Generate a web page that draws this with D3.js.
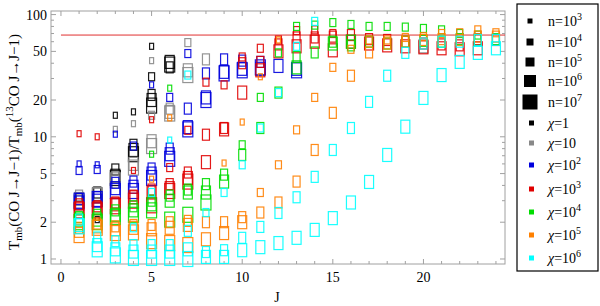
<!DOCTYPE html>
<html>
<head>
<meta charset="utf-8">
<script src="https://cdn.jsdelivr.net/npm/d3@7"></script>
<style>
  body { margin: 0; background: #fff; }
</style>
</head>
<body>
<div id="chart"></div>
<script>
// DATA: each row is [J, log10(n), ratio]
var chi1 = [
  [1, 4, 3.2], [2, 5, 3.5], [2, 6, 3.4], [2, 3, 2.1],
  [3, 3, 15], [3, 5, 5.4], [3, 6, 4.8], [3, 7, 4.6],
  [4, 3, 16], [4, 5, 8.6], [4, 6, 7.8], [4, 7, 7.2],
  [5, 3, 55], [5, 4, 31], [5, 5, 22], [5, 6, 20], [5, 7, 18],
  [6, 5, 37], [6, 6, 41], [6, 7, 39]
];
var chi10 = [
  [1, 5, 3.3], [1, 6, 3.1], [1, 7, 2.9], [2, 6, 3.4], [2, 7, 3.3],
  [3, 3, 11.5], [3, 5, 4.7], [3, 7, 4.4],
  [4, 3, 12.8], [4, 6, 6.0], [4, 7, 5.6],
  [5, 3, 42], [5, 4, 15], [5, 6, 9.2], [5, 7, 8.4],
  [6, 5, 17], [6, 6, 16], [6, 7, 15.5],
  [7, 4, 59], [7, 6, 35], [7, 7, 32], [8, 5, 43], [20, 6, 55]
];
var chi100 = [
  [1, 5, 3.1], [1, 6, 2.9], [1, 7, 3.0], [1, 3, 6.0], [1, 4, 5.3],
  [2, 3, 5.9], [2, 4, 5.4], [2, 5, 3.2], [2, 6, 3.0], [2, 7, 3.1],
  [3, 3, 10.5], [3, 5, 4.2], [3, 6, 3.8], [3, 7, 3.6],
  [4, 4, 8.4], [4, 5, 4.3], [4, 6, 3.9], [4, 7, 3.6],
  [5, 3, 26.6], [5, 5, 5.5], [5, 6, 5.0], [5, 7, 4.6],
  [6, 4, 21], [6, 5, 8.0], [6, 6, 7.2], [6, 7, 6.6],
  [7, 4, 48], [7, 5, 17], [7, 6, 12], [7, 7, 11.5],
  [8, 5, 33], [8, 6, 21], [8, 7, 20],
  [9, 5, 43], [9, 6, 34], [9, 7, 33],
  [10, 5, 42], [10, 6, 36], [10, 7, 35],
  [11, 5, 41], [11, 6, 36], [11, 7, 37],
  [12, 6, 38], [13, 6, 36], [13, 7, 35]
];
var chi1e3 = [
  [1, 3, 10.6], [1, 5, 2.8], [1, 6, 2.6], [1, 7, 2.5],
  [2, 3, 10.0], [2, 5, 2.7], [2, 6, 2.6], [2, 7, 2.5],
  [3, 5, 2.9], [3, 6, 2.8], [3, 7, 2.7],
  [4, 3, 5.3], [4, 5, 3.3], [4, 6, 3.2], [4, 7, 3.0],
  [5, 3, 13.8], [5, 5, 3.7], [5, 6, 3.5], [5, 7, 2.75],
  [6, 4, 5.6], [6, 5, 4.1], [6, 6, 3.8], [6, 7, 3.6],
  [7, 4, 11.3], [7, 5, 5.1], [7, 6, 4.6], [7, 7, 4.3],
  [8, 4, 28], [8, 5, 10.4], [8, 6, 6.2],
  [9, 4, 26.6], [9, 5, 11.8], [9, 6, 11.5],
  [10, 4, 45], [10, 5, 40], [10, 6, 23],
  [11, 4, 53], [11, 5, 41], [11, 6, 35],
  [12, 4, 62], [12, 5, 57], [12, 6, 50],
  [13, 4, 74], [13, 5, 65], [13, 6, 55],
  [14, 4, 75], [14, 5, 65], [14, 6, 60],
  [15, 4, 70], [15, 5, 66], [15, 6, 51],
  [16, 5, 68], [16, 6, 60], [17, 5, 63], [17, 6, 58],
  [18, 5, 62], [18, 6, 56], [19, 5, 60], [19, 6, 55],
  [20, 5, 58], [20, 6, 54], [21, 5, 57], [21, 6, 53],
  [22, 5, 56], [22, 6, 52], [23, 5, 63], [23, 6, 53], [24, 5, 62]
];
var chi1e4 = [
  [1, 5, 2.2], [1, 6, 2.1], [1, 7, 2.0], [2, 5, 2.3], [2, 6, 2.1], [2, 7, 2.0],
  [3, 5, 2.5], [3, 6, 2.3], [3, 7, 2.2], [4, 5, 2.7], [4, 6, 2.5], [4, 7, 2.3],
  [5, 3, 7.2], [5, 5, 3.0], [5, 6, 2.8], [5, 7, 2.5],
  [6, 3, 25], [6, 5, 3.3], [6, 6, 3.0], [6, 7, 2.1],
  [7, 5, 3.7], [7, 6, 3.5], [7, 7, 2.3],
  [8, 5, 4.1], [8, 6, 3.5], [8, 7, 2.9],
  [9, 5, 4.9], [9, 6, 4.3], [10, 4, 8.6], [10, 5, 7.1],
  [11, 4, 21], [11, 5, 11.8], [12, 4, 48.6], [12, 5, 23],
  [13, 4, 80], [13, 5, 45], [13, 6, 37], [14, 4, 82], [14, 5, 49],
  [15, 4, 86], [15, 5, 60], [15, 6, 58], [16, 4, 83], [16, 5, 56], [16, 6, 60],
  [17, 4, 80], [17, 5, 60], [18, 4, 80], [18, 5, 58], [19, 4, 79], [19, 5, 60],
  [20, 4, 77], [20, 5, 61], [21, 4, 75], [21, 5, 60], [22, 4, 70], [22, 5, 63],
  [23, 4, 68], [23, 5, 62], [24, 5, 63]
];
var chi1e5 = [
  [1, 5, 1.8], [1, 6, 1.7], [1, 7, 1.57], [2, 5, 1.95], [2, 6, 1.85], [2, 7, 1.8],
  [3, 5, 1.85], [3, 6, 1.75], [3, 7, 1.63], [4, 5, 1.9], [4, 6, 1.8], [4, 7, 1.65],
  [5, 3, 4.5], [5, 5, 1.9], [5, 6, 1.75], [5, 7, 1.4],
  [6, 3, 14.3], [6, 5, 2.0], [6, 6, 1.8], [6, 7, 1.35],
  [7, 5, 2.05], [7, 6, 1.9], [7, 7, 1.3], [8, 5, 2.0], [8, 6, 1.45],
  [9, 3, 6.1], [9, 5, 2.0], [9, 6, 1.63],
  [10, 3, 13.2], [10, 5, 2.2], [10, 6, 2.0],
  [11, 3, 31], [11, 4, 3.5], [11, 5, 2.4],
  [12, 3, 62], [12, 4, 5.9], [12, 5, 2.9],
  [13, 4, 11.4], [13, 5, 4.3], [14, 4, 21], [14, 5, 7.8],
  [15, 4, 37], [15, 5, 15.7], [16, 4, 52], [16, 5, 31.6],
  [17, 4, 62], [17, 5, 49], [18, 4, 62], [18, 5, 58],
  [19, 4, 65], [19, 5, 60], [20, 4, 66], [20, 5, 62],
  [21, 4, 70], [21, 5, 63], [22, 4, 71], [22, 5, 62],
  [23, 4, 75], [23, 5, 66], [24, 4, 71], [24, 5, 66]
];
var chi1e6 = [
  [1, 5, 2.1], [1, 6, 1.9], [1, 7, 1.85], [2, 5, 1.5], [2, 6, 1.3], [2, 7, 1.2],
  [3, 5, 1.4], [3, 6, 1.2], [3, 7, 1.07],
  [4, 4, 1.8], [4, 5, 1.3], [4, 6, 1.15], [4, 7, 1.02],
  [5, 4, 3.5], [5, 5, 1.3], [5, 6, 1.15], [5, 7, 1.02],
  [6, 3, 9.4], [6, 5, 1.3], [6, 6, 1.15], [6, 7, 1.02],
  [7, 4, 32], [7, 5, 1.7], [7, 6, 1.2], [7, 7, 1.0],
  [8, 4, 2.4], [8, 5, 1.14], [8, 6, 1.04], [9, 4, 3.5], [9, 5, 1.18], [9, 6, 1.04],
  [10, 4, 5.9], [10, 5, 1.49], [10, 6, 1.18], [11, 4, 11.8], [11, 5, 1.83], [11, 6, 1.25],
  [12, 4, 23], [12, 5, 2.38], [12, 6, 1.35], [13, 4, 55], [13, 5, 3.2], [13, 6, 1.49],
  [14, 4, 88], [14, 5, 4.7], [14, 6, 1.73], [15, 5, 7.8], [15, 6, 2.16],
  [16, 5, 11.8], [16, 6, 2.9], [17, 5, 19.3], [17, 6, 4.27],
  [18, 5, 31.6], [18, 6, 7.1], [19, 5, 48.6], [19, 6, 12.1],
  [20, 5, 58], [20, 6, 20.8], [21, 5, 60], [21, 6, 32],
  [22, 5, 60], [22, 6, 41], [23, 5, 62], [23, 6, 48.6], [24, 5, 62], [24, 6, 53]
];

var chiLabels = ["1", "10", "2", "3", "4", "5", "6"];
var densityExp = [3, 4, 5, 6, 7];
var xTicks = [0, 5, 10, 15, 20];
var yTicks = [1, 2, 5, 10, 20, 50, 100];
var refLine = 68;

var groups = [chi1, chi10, chi100, chi1e3, chi1e4, chi1e5, chi1e6];
var colors = ["#000000", "#888888", "#0000dd", "#e00000", "#00dd00", "#ff8000", "#00ffff"];
var boxW = { 3: 4, 4: 6, 5: 7, 6: 9, 7: 10 },
  boxH = { 3: 6, 4: 8, 5: 11, 6: 13, 7: 15 };

var serif = "'Liberation Serif', 'DejaVu Serif', 'Times New Roman', serif";

var svg = d3.select("#chart").append("svg")
  .attr("width", 600).attr("height", 306)
  .style("font-family", serif);

var x = d3.scaleLinear().domain([-0.55, 24.5]).range([51, 505]),
  y = d3.scaleLog().domain([0.91, 107]).range([264, 11]);

var frame = "#a0a0a0";

// frame
svg.append("rect")
  .attr("x", 51).attr("y", 11)
  .attr("width", 454).attr("height", 253)
  .attr("fill", "none").attr("stroke", frame).attr("stroke-width", 1);

// x ticks (bottom + top)
var xMinor = d3.range(0, 25);
xMinor.forEach(function (t) {
  var major = xTicks.indexOf(t) >= 0;
  var len = major ? 5 : 3;
  svg.append("line").attr("x1", x(t)).attr("x2", x(t))
    .attr("y1", 264).attr("y2", 264 - len).attr("stroke", frame);
  svg.append("line").attr("x1", x(t)).attr("x2", x(t))
    .attr("y1", 11).attr("y2", 11 + len).attr("stroke", frame);
});
svg.selectAll(".xlab").data(xTicks).enter().append("text")
  .attr("x", function (d) { return x(d); })
  .attr("y", 282)
  .attr("text-anchor", "middle")
  .style("font-family", serif)
  .attr("font-size", 14)
  .text(function (d) { return d; });

// y ticks (left + right)
var yMinor = [];
[1, 10].forEach(function (dec) {
  for (var k = 1; k < 10; k++) yMinor.push(k * dec);
});
yMinor.push(100);
yMinor.forEach(function (t) {
  var major = yTicks.indexOf(t) >= 0;
  var len = major ? 5 : 3;
  svg.append("line").attr("x1", 51).attr("x2", 51 + len)
    .attr("y1", y(t)).attr("y2", y(t)).attr("stroke", frame);
  svg.append("line").attr("x1", 505).attr("x2", 505 - len)
    .attr("y1", y(t)).attr("y2", y(t)).attr("stroke", frame);
});
svg.selectAll(".ylab").data(yTicks).enter().append("text")
  .attr("x", 47)
  .attr("y", function (d) { return y(d) + 5; })
  .attr("text-anchor", "end")
  .style("font-family", serif)
  .attr("font-size", 14)
  .text(function (d) { return d; });

// axis titles
svg.append("text").attr("x", 277).attr("y", 302)
  .attr("text-anchor", "middle").style("font-family", serif)
  .attr("font-size", 14).text("J");

var yt = svg.append("text")
  .attr("transform", "translate(19,142) rotate(-90)")
  .attr("text-anchor", "middle")
  .style("font-family", serif)
  .attr("font-size", 15);
yt.append("tspan").text("T");
yt.append("tspan").attr("font-size", 11).attr("dy", 3).text("mb");
yt.append("tspan").attr("dy", -3).text("(CO J\u2192J\u22121)/T");
yt.append("tspan").attr("font-size", 11).attr("dy", 3).text("mb");
yt.append("tspan").attr("dy", -3).text("(");
yt.append("tspan").attr("font-size", 11).attr("dy", -6).text("13");
yt.append("tspan").attr("dy", 6).text("CO J\u2192J\u22121)");

// reference line
svg.append("line")
  .attr("x1", x(0)).attr("x2", 505)
  .attr("y1", y(refLine)).attr("y2", y(refLine))
  .attr("stroke", "#e03030").attr("stroke-width", 1);

// boxes
var plot = svg.append("g");
groups.forEach(function (rows, i) {
  plot.selectAll(null).data(rows).enter().append("rect")
    .attr("x", function (d) { return x(d[0]) - boxW[d[1]] / 2; })
    .attr("y", function (d) { return y(d[2]) - boxH[d[1]] / 2; })
    .attr("width", function (d) { return boxW[d[1]]; })
    .attr("height", function (d) { return boxH[d[1]]; })
    .attr("fill", "none")
    .attr("stroke", colors[i])
    .attr("stroke-width", 1.2)
    .attr("opacity", 0.9);
});

// legend
var lg = svg.append("g");
lg.append("rect").attr("x", 517).attr("y", 4).attr("width", 81).attr("height", 267)
  .attr("fill", "#fff").attr("stroke", "#000").attr("stroke-width", 1.2);

var nSize = [5, 7, 9, 12, 15],
  nY = [21, 42, 62, 81, 102];
densityExp.forEach(function (e, i) {
  lg.append("rect")
    .attr("x", 530 - nSize[i] / 2).attr("y", nY[i] - nSize[i] / 2)
    .attr("width", nSize[i]).attr("height", nSize[i]).attr("fill", "#000");
  var t = lg.append("text").attr("x", 548).attr("y", nY[i] + 5)
    .style("font-family", serif).attr("font-size", 14);
  t.append("tspan").text("n=10");
  t.append("tspan").attr("font-size", 10).attr("dy", -6).text(e);
});

var chiY = [123, 143, 165, 189, 212, 235, 258];
chiLabels.forEach(function (lab, i) {
  lg.append("rect")
    .attr("x", 529).attr("y", chiY[i] - 2.5)
    .attr("width", 5).attr("height", 5).attr("fill", colors[i]);
  var t = lg.append("text").attr("x", 548).attr("y", chiY[i] + 5)
    .style("font-family", serif).attr("font-size", 14);
  t.append("tspan").attr("font-style", "italic").text("\u03c7");
  if (i < 2) {
    t.append("tspan").text("=" + lab);
  } else {
    t.append("tspan").text("=10");
    t.append("tspan").attr("font-size", 10).attr("dy", -6).text(lab);
  }
});
</script>
</body>
</html>
